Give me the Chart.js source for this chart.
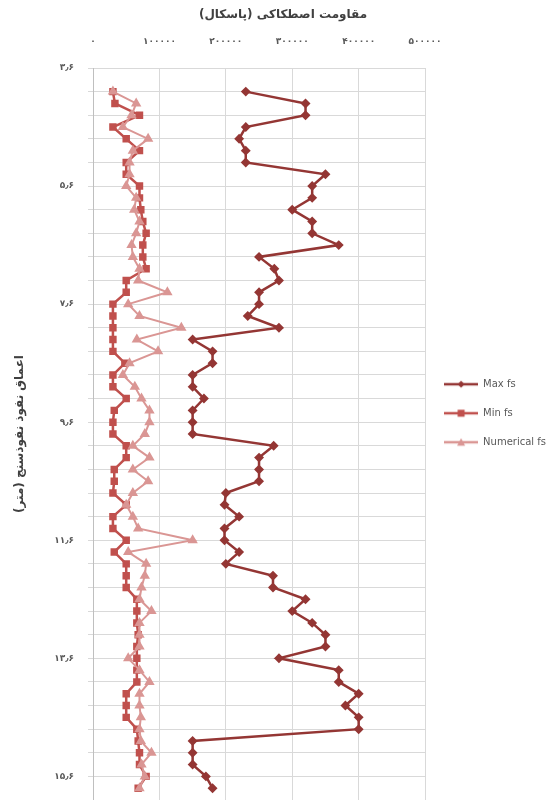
<!DOCTYPE html>
<html lang="fa">
<head>
  <meta charset="UTF-8">
  <title>مقاومت اصطکاکی</title>
  <script src="https://cdn.jsdelivr.net/npm/chart.js"></script>
  <style>
    body { margin: 0; background: #fff; }
    #chart { display: block; }
  </style>
</head>
<body>
  <canvas id="chart" width="556" height="800"></canvas>
  <script>
    // depth of each reading (m)
    const depths = [4.0, 4.2, 4.4, 4.6, 4.8, 5.0, 5.2, 5.4, 5.6, 5.8,
      6.0, 6.2, 6.4, 6.6, 6.8, 7.0, 7.2, 7.4, 7.6, 7.8,
      8.0, 8.2, 8.4, 8.6, 8.8, 9.0, 9.2, 9.4, 9.6, 9.8,
      10.0, 10.2, 10.4, 10.6, 10.8, 11.0, 11.2, 11.4, 11.6, 11.8,
      12.0, 12.2, 12.4, 12.6, 12.8, 13.0, 13.2, 13.4, 13.6, 13.8,
      14.0, 14.2, 14.4, 14.6, 14.8, 15.0, 15.2, 15.4, 15.6, 15.8];

    const maxFs = [230000, 320000, 320000, 230000, 220000, 230000, 230000, 350000, 330000, 330000,
      300000, 330000, 330000, 370000, 250000, 273000, 280000, 250000, 250000, 233000,
      280000, 150000, 180000, 180000, 150000, 150000, 167000, 150000, 150000, 150000,
      272000, 250000, 250000, 250000, 200000, 198000, 220000, 198000, 198000, 220000,
      200000, 271000, 271000, 320000, 300000, 330000, 350000, 350000, 280000, 370000,
      370000, 400000, 380000, 400000, 400000, 150000, 150000, 150000, 170000, 180000];

    const minFs = [30000, 33000, 70000, 30000, 50000, 70000, 50000, 50000, 70000, 70000,
      72000, 75000, 80000, 75000, 75000, 80000, 50000, 50000, 30000, 30000,
      30000, 30000, 30000, 48000, 30000, 30000, 50000, 32000, 30000, 30000,
      50000, 50000, 32000, 32000, 30000, 50000, 30000, 30000, 50000, 32000,
      50000, 50000, 50000, 66000, 66000, 66000, 68000, 66000, 66000, 66000,
      66000, 50000, 50000, 50000, 66000, 68000, 70000, 70000, 80000, 68000];

    const numFs = [30000, 65000, 58000, 45000, 83000, 60000, 55000, 55000, 50000, 65000,
      62000, 70000, 65000, 58000, 60000, 70000, 68000, 112000, 53000, 70000,
      133000, 66000, 98000, 55000, 45000, 63000, 73000, 85000, 85000, 78000,
      60000, 85000, 60000, 83000, 60000, 50000, 60000, 68000, 150000, 53000,
      80000, 78000, 73000, 70000, 88000, 70000, 70000, 70000, 53000, 70000,
      85000, 70000, 70000, 72000, 70000, 72000, 88000, 73000, 78000, 70000];

    const seriesNames = ['Max fs', 'Min fs', 'Numerical fs'];
    const xTickTexts = ['۰', '۱۰۰۰۰۰', '۲۰۰۰۰۰', '۳۰۰۰۰۰', '۴۰۰۰۰۰', '۵۰۰۰۰۰'];
    const yLabelDepths = [3.6, 5.6, 7.6, 9.6, 11.6, 13.6, 15.6];
    const yLabelTexts = ['۳٫۶', '۵٫۶', '۷٫۶', '۹٫۶', '۱۱٫۶', '۱۳٫۶', '۱۵٫۶'];

    const colors = ['#943634', '#C0504D', '#DA9694'];
    const FONT = "'DejaVu Sans', sans-serif";

    function points(values) {
      return values.map((v, i) => ({ x: v, y: depths[i] }));
    }

    // small line + marker icon for the legend, excel style
    function legendIcon(color, shape) {
      const c = document.createElement('canvas');
      c.width = 34; c.height = 10;
      const g = c.getContext('2d');
      g.strokeStyle = color;
      g.fillStyle = color;
      g.lineWidth = 2.5;
      g.beginPath(); g.moveTo(0, 5); g.lineTo(34, 5); g.stroke();
      g.beginPath();
      if (shape === 'diamond') {
        g.moveTo(17, 1.5); g.lineTo(20.5, 5); g.lineTo(17, 8.5); g.lineTo(13.5, 5);
      } else if (shape === 'square') {
        g.rect(13.5, 1.5, 7, 7);
      } else {
        g.moveTo(17, 1); g.lineTo(21, 8.5); g.lineTo(13, 8.5);
      }
      g.closePath(); g.fill();
      return c;
    }
    const icons = [legendIcon(colors[0], 'diamond'), legendIcon(colors[1], 'square'), legendIcon(colors[2], 'triangle')];

    new Chart(document.getElementById('chart'), {
      type: 'line',
      data: {
        datasets: [
          {
            label: seriesNames[0], data: points(maxFs),
            borderColor: colors[0], backgroundColor: colors[0], borderWidth: 2.5,
            pointStyle: 'rectRot', pointRadius: 3.2, order: 3
          },
          {
            label: seriesNames[1], data: points(minFs),
            borderColor: colors[1], backgroundColor: colors[1], borderWidth: 2.5,
            pointStyle: 'rect', pointRadius: 3.5, order: 2
          },
          {
            label: seriesNames[2], data: points(numFs),
            borderColor: colors[2], backgroundColor: colors[2], borderWidth: 2,
            pointStyle: 'triangle', pointRadius: 4, order: 1
          }
        ]
      },
      options: {
        responsive: false,
        animation: false,
        indexAxis: 'y',
        layout: { autoPadding: false, padding: { left: 10, right: 0, top: 0, bottom: 0 } },
        scales: {
          x: {
            type: 'linear',
            position: 'top',
            min: 0,
            max: 500000,
            grid: { color: '#D9D9D9', drawTicks: false },
            border: { display: false },
            afterFit: (s) => { s.height = 31.6; },
            ticks: {
              stepSize: 100000,
              padding: 21,
              maxRotation: 0,
              color: '#595959',
              font: { family: FONT, size: 9, weight: 'bold' },
              callback: (v, i) => xTickTexts[i]
            }
          },
          y: {
            type: 'linear',
            reverse: true,
            min: 3.6,
            max: 16.0,
            grid: { color: '#D9D9D9', tickLength: 5 },
            border: { color: '#BFBFBF' },
            afterFit: (s) => {
              s.width = 83;
              s.paddingTop = 0;
              s.paddingBottom = 0;
            },
            ticks: {
              stepSize: 0.4,
              autoSkip: false,
              padding: 14,
              color: '#595959',
              font: { family: FONT, size: 9, weight: 'bold' },
              callback: (v) => {
                const k = yLabelDepths.findIndex(d => Math.abs(d - v) < 0.01);
                return k >= 0 ? yLabelTexts[k] : '';
              }
            },
            title: {
              display: true,
              text: 'اعماق نفوذ نفوذسنج (متر)',
              color: '#404040',
              font: { family: FONT, size: 12, weight: 'bold' },
              padding: { top: 3, bottom: 8 }
            }
          }
        },
        plugins: {
          title: {
            display: true,
            text: 'مقاومت اصطکاکی (پاسکال)',
            color: '#404040',
            font: { family: FONT, size: 12, weight: 'bold' },
            padding: { top: 8, bottom: 14 }
          },
          legend: {
            position: 'right',
            title: { display: true, text: '', padding: { top: 12, bottom: 0 } },
            labels: {
              color: '#595959',
              font: { family: FONT, size: 10 },
              usePointStyle: true,
              pointStyleWidth: 34,
              padding: 19,
              sort: (a, b) => a.datasetIndex - b.datasetIndex,
              generateLabels: (chart) => Chart.defaults.plugins.legend.labels.generateLabels(chart)
                .map(l => Object.assign(l, { pointStyle: icons[l.datasetIndex] }))
            }
          },
          tooltip: { enabled: false }
        }
      }
    });
  </script>
</body>
</html>
